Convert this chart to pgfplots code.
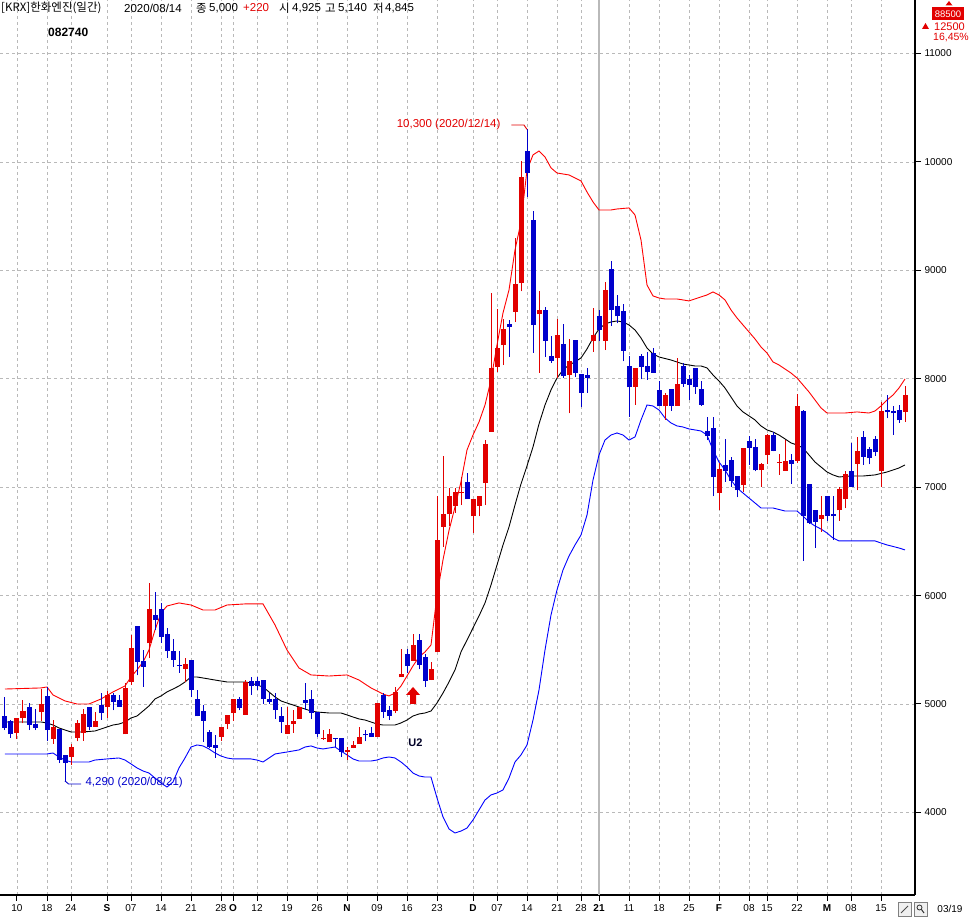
\documentclass[border=0pt]{standalone}
\usepackage{fontspec}
\setmainfont{Liberation Sans}
\newfontfamily\kr{Noto Sans CJK KR}
\usepackage{pgfplots}
\pgfplotsset{compat=1.18}
\usepackage{pgfplotstable}
\definecolor{cred}{RGB}{226,0,0}
\definecolor{cblue}{RGB}{0,0,204}
\definecolor{bred}{RGB}{255,0,0}
\definecolor{bblue}{RGB}{0,0,255}
\definecolor{gridc}{RGB}{185,185,185}

\pgfplotstableread{
i O H L C
2 4735 4875 4675 4875
3 4875 5035 4820 4935
6 4925 5140 4845 5000
8 4675 4855 4635 4785
11 4515 4635 4435 4605
12 4690 4855 4655 4820
13 4735 4950 4660 4910
15 4790 4925 4790 4845
17 4975 5120 4875 5085
20 4720 5190 4720 5145
21 5205 5635 5175 5515
24 5560 6115 5420 5875
30 5325 5420 5205 5365
36 4700 4785 4660 4785
37 4815 4900 4765 4900
38 4915 5045 4845 5045
40 4900 5225 4900 5205
47 4725 4970 4725 4805
48 4815 4940 4735 4845
49 4860 4970 4860 4970
53 4675 4760 4670 4690
54 4645 4765 4645 4725
57 4560 4605 4485 4580
58 4595 4655 4590 4620
59 4635 4785 4635 4700
62 4695 5005 4695 5005
65 4935 5160 4915 5115
66 5245 5510 5245 5275
68 5400 5645 5400 5545
71 5220 5390 5220 5320
72 5475 6915 5475 6515
73 6635 7290 6450 6750
74 6750 6990 6640 6920
75 6825 6990 6765 6960
76 6945 7095 6835 6960
78 6730 6895 6575 6895
79 6830 6920 6730 6920
80 7035 7435 6835 7400
81 7510 8795 7510 8095
82 8110 8640 8065 8280
83 8310 8550 8125 8455
85 8620 9295 8525 8875
86 8885 10005 8805 9860
89 8595 8810 8055 8635
92 8195 8550 8005 8405
94 8035 8365 7680 8165
98 8350 8650 8250 8405
100 8350 8895 8265 8820
105 7925 8100 7760 8100
110 7745 7865 7620 7850
112 7750 8190 7750 7950
119 6945 7220 6785 7165
123 7020 7365 6960 7365
126 7155 7225 7005 7215
127 7295 7490 7215 7480
129 7225 7305 7115 7235
130 7150 7435 7150 7240
132 7245 7860 7225 7750
136 6705 6920 6590 6745
139 6785 7005 6690 6985
140 6890 7150 6805 7120
142 7215 7465 6970 7335
146 7145 7790 7000 7705
150 7695 7935 7605 7850
}\redtab

\pgfplotstableread{
i O H L C
0 4890 5060 4760 4780
1 4845 4850 4690 4720
4 4970 5005 4760 4810
5 4815 4955 4760 4780
7 5075 5155 4660 4760
9 4770 4770 4455 4485
10 4525 4525 4290 4460
14 4970 4975 4760 4790
16 4990 5100 4855 4915
18 5085 5105 4940 5020
19 5035 5085 4975 4975
22 5715 5720 5265 5390
23 5400 5500 5160 5345
25 5820 6035 5680 5775
26 5880 5930 5565 5620
27 5650 5700 5425 5485
28 5490 5595 5345 5410
29 5360 5490 5290 5350
31 5405 5405 5060 5125
32 5050 5125 4885 4885
33 4935 4990 4650 4845
34 4740 4760 4595 4605
35 4620 4715 4505 4595
39 5045 5060 4940 4960
41 5210 5250 5085 5170
42 5210 5250 5130 5170
43 5220 5220 5000 5045
44 5050 5100 5000 5020
45 5045 5100 4860 4945
46 4890 4975 4735 4835
50 5035 5190 4945 5010
51 5045 5130 4860 4915
52 4925 4925 4700 4725
55 4690 4690 4605 4675
56 4685 4690 4515 4560
60 4720 4760 4655 4710
61 4730 4785 4695 4695
63 5085 5100 4875 4930
64 4945 4980 4850 4890
67 5460 5510 5285 5350
69 5590 5645 5320 5360
70 5430 5465 5160 5215
77 7045 7135 6890 6890
84 8505 8545 8205 8480
87 10105 10300 9675 9895
88 9465 9550 8240 8495
90 8635 8660 8205 8350
91 8210 8390 8150 8165
93 8320 8505 8005 8025
95 8355 8355 8020 8050
96 8045 8045 7735 7870
97 8035 8095 7870 8005
99 8580 8635 8350 8450
101 9010 9085 8485 8630
102 8670 8775 8510 8575
103 8625 8690 8160 8260
104 8120 8210 7650 7920
106 8210 8230 7995 8110
107 8120 8250 7990 8065
108 8240 8280 8055 8055
109 7900 7980 7745 7745
111 7905 7905 7705 7750
113 8120 8150 7925 7955
114 7995 8035 7805 7945
115 8095 8095 7860 7920
116 7905 7975 7750 7760
117 7520 7645 7435 7470
118 7550 7645 6915 7090
120 7205 7445 7050 7150
121 7250 7280 7005 7060
122 7105 7105 6905 6970
124 7425 7470 7205 7365
125 7375 7440 7145 7155
128 7480 7510 7330 7335
131 7250 7310 7030 7215
133 7705 7710 6320 6735
134 7030 7030 6660 6665
135 6785 6790 6440 6680
137 6915 6920 6690 6735
138 6755 6920 6515 6730
141 7150 7410 7005 7005
143 7460 7520 7205 7280
144 7350 7370 7210 7265
145 7440 7475 7290 7320
147 7710 7850 7635 7690
148 7705 7745 7485 7680
149 7710 7760 7595 7615
}\bluetab

\begin{document}
\begin{tikzpicture}
\path[use as bounding box] (0,0) rectangle (970pt,918pt);
\begin{axis}[
  at={(0pt,23pt)}, anchor=south west,
  scale only axis, width=915pt, height=895pt,
  xmin=-0.8333, xmax=151.6667, ymin=3238, ymax=11494,
  axis x line*=bottom, axis y line*=right,
  axis line style={black, line width=1.2pt},
  xtick={2,7,11,17,21,26,31,36,38,42,47,52,57,62,67,72,78,82,87,92,96,104,109,114,119,124,127,132,137,141,146},
  xticklabels={10,18,24,\textbf{S},07,14,21,28,\textbf{O},12,19,26,\textbf{N},09,16,23,\textbf{D},07,14,21,28,11,18,25,\textbf{F},08,15,22,\textbf{M},08,15},
  extra x ticks={99}, extra x tick labels={\textbf{21}},
  extra x tick style={major grid style={solid, gridc, line width=1.3pt}},
  ytick={4000,5000,6000,7000,8000,9000,10000,11000},
  yticklabels={4000,5000,6000,7000,8000,9000,10000,11000},
  tick align=outside, major tick length=6pt,
  major tick style={black, line width=1pt},
  xmajorgrids, ymajorgrids,
  major grid style={gridc, dash pattern=on 3pt off 3pt, line width=0.8pt},
  ticklabel style={font=\fontsize{10}{12}\selectfont},
  candle/.style={draw=none, mark=none, forget plot, error bars/.cd, y dir=plus, y explicit, error mark=none},
]
% Bollinger bands
\addplot[bred, line width=0.9pt] coordinates {(0,5138)(6,5148)(7,5157)(8,5083)(10,5028)(12,5000)(14,5000)(16,5046)(18,5111)(20,5166)(21,5249)(22,5314)(23,5387)(24,5498)(25,5683)(26,5839)(27,5904)(29,5932)(31,5913)(33,5867)(35,5867)(37,5913)(40,5923)(43,5923)(45,5729)(47,5498)(49,5332)(51,5268)(54,5258)(57,5268)(59,5221)(61,5148)(63,5092)(64,5074)(65,5101)(66,5166)(67,5258)(68,5351)(69,5434)(70,5480)(71,5544)(72,6000)(73,6330)(74,6600)(75,6817)(76,7050)(77,7343)(78,7481)(79,7601)(80,7758)(81,7989)(82,8312)(83,8607)(84,8819)(85,9188)(86,9446)(87,9926)(88,10065)(89,10101)(90,10046)(91,9945)(92,9898)(93,9889)(94,9880)(95,9852)(96,9825)(97,9723)(98,9631)(99,9557)(101,9557)(102,9566)(104,9576)(105,9511)(106,9280)(107,8865)(108,8764)(109,8745)(110,8736)(112,8736)(114,8718)(116,8755)(117,8773)(118,8801)(119,8773)(120,8727)(121,8635)(122,8561)(123,8496)(124,8432)(125,8367)(126,8293)(127,8238)(128,8155)(129,8127)(130,8090)(131,8053)(132,8007)(133,7943)(134,7878)(135,7804)(136,7731)(137,7684)(140,7684)(142,7694)(144,7684)(145,7703)(146,7749)(147,7804)(148,7850)(149,7915)(150,7998)};
\addplot[black, line width=0.9pt] coordinates {(0,4834)(6,4834)(7,4825)(8,4806)(9,4779)(10,4760)(11,4742)(13,4742)(15,4751)(16,4769)(17,4788)(18,4806)(19,4815)(20,4834)(21,4871)(22,4889)(23,4935)(24,4982)(25,5046)(26,5074)(27,5111)(28,5138)(29,5166)(30,5203)(31,5249)(32,5249)(33,5240)(35,5221)(37,5203)(40,5203)(41,5194)(42,5175)(43,5157)(44,5111)(45,5065)(46,5028)(47,5009)(48,4991)(49,4972)(50,4954)(51,4935)(52,4926)(54,4917)(56,4917)(57,4899)(58,4880)(59,4862)(60,4852)(61,4834)(62,4815)(63,4806)(65,4806)(66,4825)(67,4852)(68,4889)(69,4908)(70,4917)(71,4935)(72,5009)(73,5101)(74,5203)(75,5314)(76,5480)(77,5590)(78,5701)(79,5812)(80,5932)(81,6098)(82,6282)(83,6467)(84,6633)(85,6836)(86,7030)(87,7196)(88,7371)(89,7583)(90,7758)(91,7897)(92,8007)(93,8081)(94,8127)(95,8155)(96,8192)(97,8275)(98,8376)(99,8459)(100,8505)(101,8524)(102,8533)(103,8524)(104,8496)(105,8450)(106,8376)(107,8284)(108,8229)(109,8201)(111,8173)(113,8136)(115,8118)(116,8118)(117,8100)(118,8035)(119,7980)(120,7915)(121,7832)(122,7749)(123,7694)(124,7657)(125,7620)(126,7565)(127,7528)(128,7509)(129,7481)(130,7445)(131,7408)(132,7389)(133,7362)(134,7297)(135,7232)(136,7186)(137,7140)(138,7113)(139,7094)(141,7103)(143,7103)(145,7113)(147,7140)(149,7177)(150,7205)};
\addplot[bblue, line width=0.9pt] coordinates {(0,4539)(7,4539)(8,4548)(9,4511)(10,4483)(11,4465)(14,4465)(15,4483)(17,4493)(19,4502)(20,4483)(21,4447)(22,4410)(23,4382)(24,4363)(25,4317)(26,4271)(27,4234)(28,4280)(29,4410)(30,4502)(31,4603)(32,4622)(33,4613)(34,4585)(35,4548)(36,4520)(37,4502)(38,4493)(41,4493)(42,4483)(43,4465)(44,4502)(45,4539)(47,4557)(49,4576)(50,4603)(51,4613)(52,4594)(53,4585)(54,4594)(55,4603)(56,4566)(57,4530)(58,4493)(59,4474)(61,4474)(62,4483)(63,4502)(64,4511)(65,4502)(66,4465)(67,4419)(68,4363)(69,4336)(70,4326)(71,4326)(72,4133)(73,3958)(74,3847)(75,3810)(76,3828)(77,3856)(78,3930)(79,4022)(80,4114)(81,4161)(82,4179)(83,4207)(84,4317)(85,4465)(86,4530)(87,4622)(88,4852)(89,5129)(90,5498)(91,5821)(92,6052)(93,6236)(94,6365)(95,6467)(96,6559)(97,6743)(98,7066)(99,7297)(100,7435)(101,7481)(102,7500)(103,7481)(104,7435)(105,7463)(106,7620)(107,7758)(108,7749)(109,7712)(110,7638)(111,7592)(112,7565)(113,7555)(114,7537)(115,7528)(116,7518)(117,7481)(118,7343)(119,7232)(120,7159)(121,7066)(122,6993)(123,6946)(124,6900)(125,6854)(126,6808)(128,6808)(130,6780)(132,6780)(133,6734)(134,6679)(135,6642)(136,6614)(137,6577)(138,6531)(139,6504)(145,6504)(146,6485)(147,6467)(149,6439)(150,6421)};
% wicks
\addplot[candle, error bar style={draw=cred, line width=1pt}]
  table[x=i, y=L, y error plus expr=\thisrow{H}-\thisrow{L}] {\redtab};
\addplot[candle, error bar style={draw=cblue, line width=1pt}]
  table[x=i, y=L, y error plus expr=\thisrow{H}-\thisrow{L}] {\bluetab};
% bodies
\addplot[candle, error bar style={draw=cred, line width=5pt}]
  table[x=i, y=O, y error plus expr=\thisrow{C}-\thisrow{O}] {\redtab};
\addplot[candle, error bar style={draw=cblue, line width=5pt}]
  table[x=i, y=C, y error plus expr=\thisrow{O}-\thisrow{C}] {\bluetab};
% annotations
\node[cred, anchor=east, inner sep=0pt, font=\fontsize{11.5}{13}\selectfont] at (axis cs:82.6,10341) {10,300 (2020/12/14)};
\draw[cred, line width=0.9pt] (axis cs:84.4,10341) -- (axis cs:86.5,10341) -- (axis cs:87,10300);
\node[cblue, anchor=west, inner sep=0pt, font=\fontsize{11.5}{13}\selectfont] at (axis cs:13.4,4275) {4,290 (2020/08/21)};
\draw[cblue, line width=0.9pt] (axis cs:10,4290) -- (axis cs:10.6,4262) -- (axis cs:12.7,4262);
\fill[cred] (axis cs:67.5,5000) -- (axis cs:67.5,5083) -- (axis cs:66.83,5083) -- (axis cs:68,5157) -- (axis cs:69.17,5083) -- (axis cs:68.5,5083) -- (axis cs:68.5,5000) -- cycle;
\node[black!85!blue, font=\bfseries\fontsize{11}{13}\selectfont, inner sep=0pt] at (axis cs:68.4,4640) {U2};
\end{axis}
% header
\node[anchor=west, inner sep=0pt, font=\kr\fontsize{11.5}{13}\selectfont] at (1pt,910pt) {[KRX]한화엔진(일간)};
\node[anchor=west, inner sep=0pt, font=\fontsize{11.5}{13}\selectfont] at (124pt,910pt) {2020/08/14};
\node[anchor=west, inner sep=0pt, font=\kr\fontsize{11.5}{13}\selectfont] at (196pt,910pt) {종};
\node[anchor=west, inner sep=0pt, font=\fontsize{11.5}{13}\selectfont] at (209pt,910pt) {5,000};
\node[anchor=west, inner sep=0pt, text=cred, font=\fontsize{11.5}{13}\selectfont] at (243pt,910pt) {+220};
\node[anchor=west, inner sep=0pt, font=\kr\fontsize{11.5}{13}\selectfont] at (279pt,910pt) {시};
\node[anchor=west, inner sep=0pt, font=\fontsize{11.5}{13}\selectfont] at (292pt,910pt) {4,925};
\node[anchor=west, inner sep=0pt, font=\kr\fontsize{11.5}{13}\selectfont] at (325pt,910pt) {고};
\node[anchor=west, inner sep=0pt, font=\fontsize{11.5}{13}\selectfont] at (338pt,910pt) {5,140};
\node[anchor=west, inner sep=0pt, font=\kr\fontsize{11.5}{13}\selectfont] at (373pt,910pt) {저};
\node[anchor=west, inner sep=0pt, font=\fontsize{11.5}{13}\selectfont] at (385pt,910pt) {4,845};
\node[anchor=west, inner sep=0pt, font=\bfseries\fontsize{12}{14}\selectfont] at (48pt,886pt) {082740};
% top right
\fill[cred] (945.5pt,912.5pt) -- (952.5pt,912.5pt) -- (949pt,917pt) -- cycle;
\fill[cred] (932pt,897.5pt) rectangle (964pt,910.5pt);
\node[white, inner sep=0pt, font=\fontsize{9.5}{11}\selectfont] at (948pt,904pt) {88500};
\fill[cred] (922pt,889pt) -- (929pt,889pt) -- (925.5pt,895pt) -- cycle;
\node[anchor=west, inner sep=0pt, text=cred, font=\fontsize{11}{13}\selectfont] at (934pt,891pt) {12500};
\node[anchor=west, inner sep=0pt, text=cred, font=\fontsize{10.5}{13}\selectfont] at (933pt,880pt) {16,45\%};
% bottom right
\draw[gray, fill=gray!12] (898pt,2pt) rectangle (911pt,16pt);
\draw[black!70, line width=0.8pt] (901pt,5pt) -- (908pt,12pt);
\draw[gray, fill=gray!12] (914pt,2pt) rectangle (927pt,16pt);
\draw[black!80, line width=0.8pt] (919.5pt,10.5pt) circle (2.5pt);
\draw[black!80, line width=1pt] (921.3pt,8.7pt) -- (924pt,5pt);
\node[inner sep=0pt, font=\fontsize{10}{12}\selectfont] at (950pt,9pt) {03/19};
\end{tikzpicture}
\end{document}
